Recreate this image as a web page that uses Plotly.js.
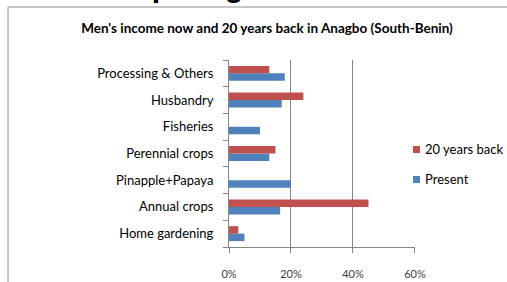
<!DOCTYPE html>
<html><head><meta charset="utf-8">
<script src="https://cdn.plot.ly/plotly-3.0.1.min.js"></script>
<style>html,body{margin:0;padding:0;background:#fff;}#chart{width:507px;height:282px;}</style>
</head><body><div id="chart"></div>
<script>
// Categories listed bottom -> top (Plotly draws category axis upward)
const categories = ["Home gardening", "Annual crops", "Pinapple+Papaya", "Perennial crops", "Fisheries", "Husbandry", "Processing & Others"];
const presentValues = [5, 16.5, 20, 13, 10, 17, 18];
const backValues = [3, 45, 0, 15, 0, 24, 13];
const seriesNames = ["Present", "20 years back"];
const xTickVals = [0, 20, 40, 60];
const xTickText = ["0%", "20%", "40%", "60%"];
const titleText = "Men's income now and 20 years back in Anagbo (South-Benin)";
const headingText = "Comparing";

const blue = "#4F81BD", red = "#C0504D";
const gray = "#868686";
const font = "Lato, 'Open Sans', sans-serif";

const traces = [
  {type: "bar", orientation: "h", name: seriesNames[0], y: categories, x: presentValues,
   marker: {color: blue}, showlegend: false, hoverinfo: "x+y"},
  {type: "bar", orientation: "h", name: seriesNames[1], y: categories, x: backValues,
   marker: {color: red}, showlegend: false, hoverinfo: "x+y"}
];

const L = 229, R = 415, T = 60, B = 247;
const px = v => (v - L) / (R - L);
const py = v => (B - v) / (B - T);

const layout = {
  width: 507, height: 282,
  margin: {l: L, r: 507 - R, t: T, b: 282 - B, pad: 0},
  paper_bgcolor: "#fff", plot_bgcolor: "#fff",
  barmode: "group", bargap: 0.44, bargroupgap: 0,
  font: {family: font, color: "#000"},
  title: {text: titleText, font: {family: font, size: 13.5, color: "#000", weight: "bold"},
          x: 267 / 507, xanchor: "center", y: 1 - 28 / 282, yanchor: "middle", xref: "container", yref: "container"},
  xaxis: {range: [0, 60.01], tickmode: "array", tickvals: xTickVals, ticktext: xTickText, showgrid: true, gridcolor: gray, gridwidth: 1,
          showline: true, linecolor: gray, linewidth: 1, zeroline: false, ticks: "outside", ticklen: 5, tickcolor: gray,
          tickfont: {family: font, size: 11, color: "#404040"}, ticklabelstandoff: 12, fixedrange: true},
  yaxis: {type: "category", categoryorder: "array", categoryarray: categories, showline: true, linecolor: gray, linewidth: 1,
          ticks: "outside", tickson: "boundaries", ticklen: 5, tickcolor: gray, showgrid: false,
          tickfont: {family: font, size: 13, color: "#000"}, ticklabelstandoff: 12, fixedrange: true},
  shapes: [
    {type: "rect", xref: "paper", yref: "paper", x0: px(8), x1: px(600), y0: py(400), y1: py(7), line: {color: "#8c8c8c", width: 1}, fillcolor: "rgba(0,0,0,0)", layer: "below"},
    {type: "rect", xref: "paper", yref: "paper", x0: px(413), x1: px(420), y0: py(153), y1: py(146), line: {width: 0}, fillcolor: red},
    {type: "rect", xref: "paper", yref: "paper", x0: px(413), x1: px(420), y0: py(183), y1: py(176), line: {width: 0}, fillcolor: blue}
  ],
  annotations: [
    {text: seriesNames[1], xref: "paper", yref: "paper", x: px(423), y: py(149), xanchor: "left", yanchor: "middle", showarrow: false,
     font: {family: font, size: 13, color: "#000"}},
    {text: seriesNames[0], xref: "paper", yref: "paper", x: px(423), y: py(179), xanchor: "left", yanchor: "middle", showarrow: false,
     font: {family: font, size: 13, color: "#000"}},
    {text: headingText, xref: "paper", yref: "paper", x: px(83), y: py(-14), xanchor: "left", yanchor: "middle", showarrow: false,
     font: {family: "'Liberation Sans', Arial, sans-serif", size: 30, color: "#000", weight: "bold"}}
  ]
};

Plotly.newPlot("chart", traces, layout, {displayModeBar: false, staticPlot: true});
</script></body></html>
